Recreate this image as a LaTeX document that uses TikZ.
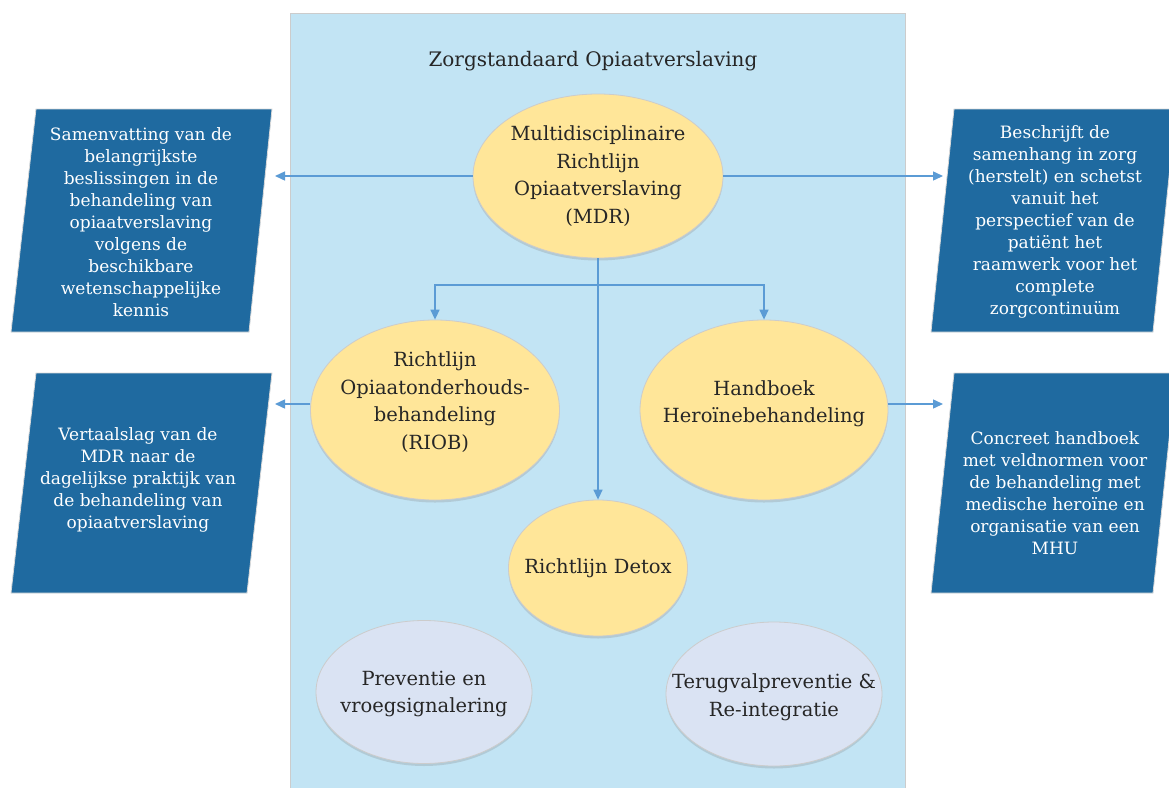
\documentclass[tikz,border=0pt]{standalone}
\usepackage{fontspec}
\setmainfont{DejaVu Serif}
\usetikzlibrary{shadows,arrows.meta,shapes.geometric}
\definecolor{bgblue}{HTML}{C2E4F4}
\definecolor{yel}{HTML}{FFE699}
\definecolor{lav}{HTML}{DAE3F3}
\definecolor{dblue}{HTML}{1F6AA0}
\definecolor{arrc}{HTML}{5B9BD5}
\definecolor{txt}{HTML}{262626}
\begin{document}
\begin{tikzpicture}[x=1pt,y=-1pt,
  oval/.style={ellipse,inner sep=0pt,draw=black!20,line width=0.8pt,
    drop shadow={shadow xshift=0pt,shadow yshift=-2.5pt,opacity=0.25}},
  yoval/.style={oval,fill=yel},
  loval/.style={oval,fill=lav},
  ovaltext/.style={text=txt,align=center,inner sep=0pt,font=\fontsize{19.5}{27.5}\selectfont},
  para/.style={fill=dblue,draw=black!15,line width=0.8pt},
  paratext/.style={text=white,align=center,font=\fontsize{17}{22}\selectfont},
  conn/.style={draw=arrc,line width=1.4pt,-{Triangle[length=10pt,width=9pt]}},
]
\useasboundingbox (0,0) rectangle (1169,787);
\clip (0,0) rectangle (1169,787);
\fill[white] (0,0) rectangle (1169,787);
% background panel
\filldraw[fill=bgblue,draw=black!20,line width=0.8pt] (290,13) rectangle (905,800);
\node[text=txt,font=\fontsize{20}{24}\selectfont] (title) at (593,61) {Zorgstandaard Opiaatverslaving};

% ellipses
\node[yoval,minimum width=250pt,minimum height=164pt] (mdr) at (598,176) {};
\node[yoval,minimum width=249pt,minimum height=180pt] (riob) at (435,410) {};
\node[yoval,minimum width=248pt,minimum height=180pt] (hb) at (764,410) {};
\node[yoval,minimum width=179pt,minimum height=136pt] (detox) at (598,568) {};
\node[loval,minimum width=216pt,minimum height=143pt] (prev) at (424,692) {};
\node[loval,minimum width=216pt,minimum height=144pt] (terug) at (774,694) {};

\node[ovaltext] (mdrt) at (mdr.center) {Multidisciplinaire\\Richtlijn\\Opiaatverslaving\\(MDR)};
\node[ovaltext] (riobt) at (435,402) {Richtlijn\\Opiaatonderhouds-\\behandeling\\(RIOB)};
\node[ovaltext] (hbt) at (764,404) {Handboek\\Heroïnebehandeling};
\node[ovaltext] (detoxt) at (detox.center) {Richtlijn Detox};
\node[ovaltext] (prevt) at (424,694) {Preventie en\\vroegsignalering};
\node[ovaltext] (terugt) at (774,697) {Terugvalpreventie \&\\Re-integratie};

% parallelograms
\path[para] (36,109) -- (272,109) -- (249,332) -- (11,332) -- cycle;
\path[para] (36,373) -- (272,373) -- (247,593) -- (11,593) -- cycle;
\path[para] (954,109) -- (1176,109) -- (1153,332) -- (931,332) -- cycle;
\path[para] (954,373) -- (1176,373) -- (1153,593) -- (931,593) -- cycle;

\node[paratext] (t1) at (141,222) {Samenvatting van de\\belangrijkste\\beslissingen in de\\behandeling van\\opiaatverslaving\\volgens de\\beschikbare\\wetenschappelijke\\kennis};
\node[paratext] (t2) at (138,480) {Vertaalslag van de\\MDR naar de\\dagelijkse praktijk van\\de behandeling van\\opiaatverslaving};
\node[paratext] (t3) at (1055,222) {Beschrijft de\\samenhang in zorg\\(herstelt) en schetst\\vanuit het\\perspectief van de\\patiënt het\\raamwerk voor het\\complete\\zorgcontinuüm};
\node[paratext] (t4) at (1055,493) {Concreet handboek\\met veldnormen voor\\de behandeling met\\medische heroïne en\\organisatie van een\\MHU};

% arrow end coordinates
\coordinate (a1) at (275,176);
\coordinate (a2) at (943,176);
\coordinate (a3) at (275,404);
\coordinate (a4) at (943,404);
\coordinate (j) at (598,285);

% connectors
\draw[conn] (mdr.south) -- (detox.north);
\draw[conn] (j) -| (riob.north);
\draw[conn] (j) -| (hb.north);
\draw[conn] (mdr.west) -- (a1);
\draw[conn] (mdr.east) -- (a2);
\draw[conn] (riob.west |- a3) -- (a3);
\draw[conn] (hb.east |- a4) -- (a4);
\end{tikzpicture}
\end{document}
